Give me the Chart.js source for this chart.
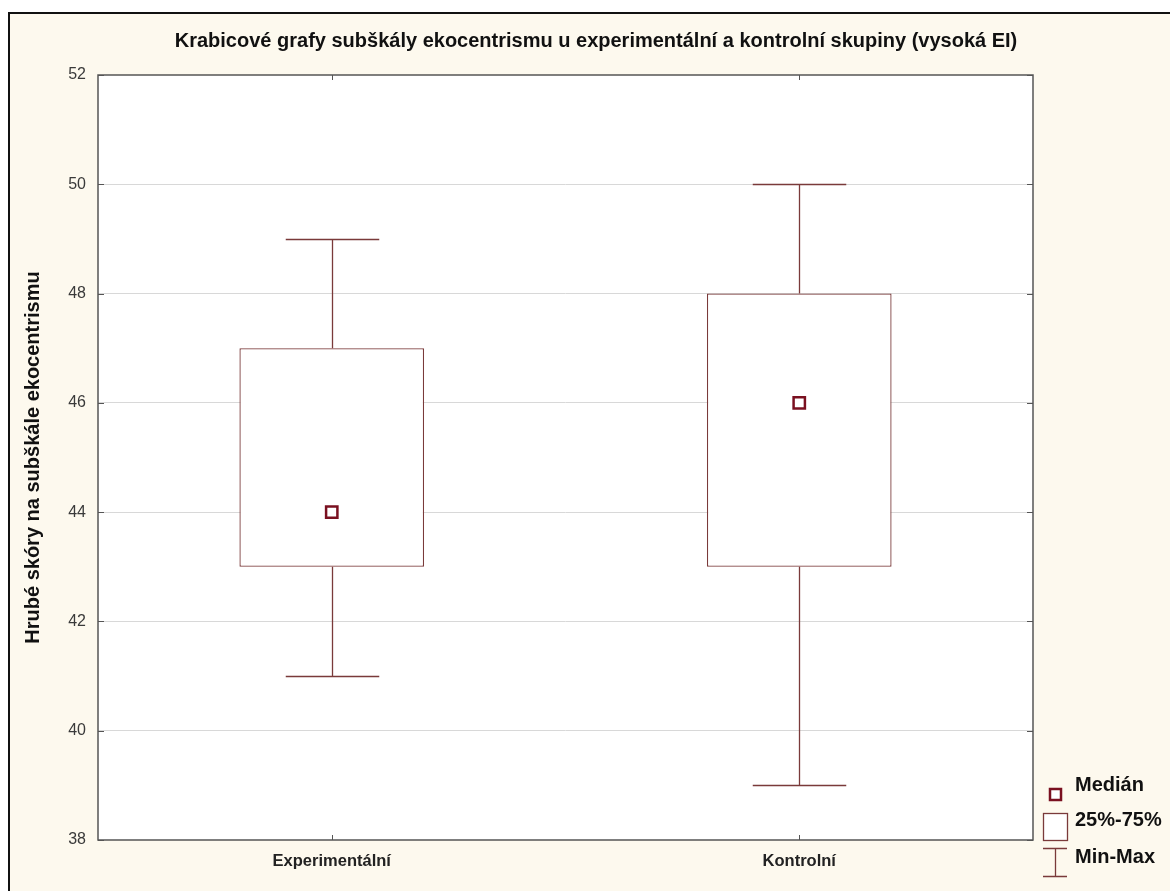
<!DOCTYPE html>
<html>
<head>
<meta charset="utf-8">
<script src="https://cdn.jsdelivr.net/npm/chart.js@4.4.1/dist/chart.umd.min.js"></script>
<style>
  html, body { margin: 0; padding: 0; background: #fff; }
  #wrap { width: 1170px; height: 891px; }
</style>
</head>
<body>
<div id="wrap"><canvas id="chart" width="1170" height="891"></canvas></div>
<script>
// data
var categories = ['Experimentální', 'Kontrolní'];
var q1Values = [43, 43];
var q3Values = [47, 48];
var medianValues = [44, 46];
var minValues = [41, 39];
var maxValues = [49, 50];
var yTicks = [38, 40, 42, 44, 46, 48, 50, 52];

var FONT = 'Arial, "Liberation Sans", sans-serif';
var BOX_COLOR = '#7a3a3a';
var MEDIAN_COLOR = '#7a1020';

// frame, inward ticks, whiskers, title and legend
var decorPlugin = {
  id: 'decor',
  beforeDraw: function (chart) {
    var ctx = chart.ctx;
    ctx.save();
    ctx.fillStyle = '#fdf9ee';
    ctx.fillRect(8, 12, 1170, 891);
    ctx.strokeStyle = '#111';
    ctx.lineWidth = 2;
    ctx.beginPath();
    ctx.moveTo(9, 891);
    ctx.lineTo(9, 13);
    ctx.lineTo(1170, 13);
    ctx.stroke();
    var a = chart.chartArea;
    ctx.fillStyle = '#fff';
    ctx.fillRect(a.left, a.top, a.right - a.left, a.bottom - a.top);
    ctx.restore();
  },
  beforeDatasetsDraw: function (chart) {
    var ctx = chart.ctx;
    var x = chart.scales.x;
    var y = chart.scales.y;
    ctx.save();
    ctx.strokeStyle = BOX_COLOR;
    ctx.lineWidth = 1.3;
    var half = (x.getPixelForValue(1) - x.getPixelForValue(0)) * 0.1;
    for (var i = 0; i < categories.length; i++) {
      var cx = Math.round(x.getPixelForValue(i)) + 0.5;
      var yMin = Math.round(y.getPixelForValue(minValues[i])) + 0.5;
      var yMax = Math.round(y.getPixelForValue(maxValues[i])) + 0.5;
      var yQ1 = y.getPixelForValue(q1Values[i]);
      var yQ3 = y.getPixelForValue(q3Values[i]);
      ctx.beginPath();
      ctx.moveTo(cx, yQ1); ctx.lineTo(cx, yMin);
      ctx.moveTo(cx, yQ3); ctx.lineTo(cx, yMax);
      ctx.moveTo(cx - half, yMin); ctx.lineTo(cx + half, yMin);
      ctx.moveTo(cx - half, yMax); ctx.lineTo(cx + half, yMax);
      ctx.stroke();
    }
    ctx.restore();
  },
  afterDraw: function (chart) {
    var ctx = chart.ctx;
    var a = chart.chartArea;
    var x = chart.scales.x;
    var y = chart.scales.y;
    ctx.save();
    // plot frame
    ctx.strokeStyle = '#555';
    ctx.lineWidth = 1.5;
    ctx.strokeRect(a.left, a.top, a.right - a.left, a.bottom - a.top);
    // inward tick marks
    ctx.lineWidth = 1;
    ctx.beginPath();
    yTicks.forEach(function (v) {
      var py = Math.round(y.getPixelForValue(v)) + 0.5;
      ctx.moveTo(a.left, py); ctx.lineTo(a.left + 6, py);
      ctx.moveTo(a.right, py); ctx.lineTo(a.right - 6, py);
    });
    categories.forEach(function (c, i) {
      var px = Math.round(x.getPixelForValue(i)) + 0.5;
      ctx.moveTo(px, a.top); ctx.lineTo(px, a.top + 5);
      ctx.moveTo(px, a.bottom); ctx.lineTo(px, a.bottom - 5);
    });
    ctx.stroke();

    // title
    ctx.fillStyle = '#111';
    ctx.font = 'bold 20px ' + FONT;
    ctx.textAlign = 'center';
    ctx.textBaseline = 'middle';
    ctx.fillText('Krabicové grafy subškály ekocentrismu u experimentální a kontrolní skupiny (vysoká EI)', 596, 41);

    // legend
    ctx.strokeStyle = MEDIAN_COLOR;
    ctx.lineWidth = 2.5;
    ctx.fillStyle = '#fff';
    ctx.fillRect(1050, 789, 11, 11);
    ctx.strokeRect(1050, 789, 11, 11);
    ctx.strokeStyle = BOX_COLOR;
    ctx.lineWidth = 1.3;
    ctx.fillRect(1043.5, 813.5, 24, 27);
    ctx.strokeRect(1043.5, 813.5, 24, 27);
    ctx.beginPath();
    ctx.moveTo(1043, 848.5); ctx.lineTo(1067, 848.5);
    ctx.moveTo(1043, 876.5); ctx.lineTo(1067, 876.5);
    ctx.moveTo(1055.5, 848.5); ctx.lineTo(1055.5, 876.5);
    ctx.stroke();
    ctx.fillStyle = '#111';
    ctx.font = 'bold 20px ' + FONT;
    ctx.textAlign = 'left';
    ctx.fillText('Medián', 1075, 785);
    ctx.fillText('25%-75%', 1075, 820);
    ctx.fillText('Min-Max', 1075, 857);
    ctx.restore();
  }
};

var boxData = categories.map(function (c, i) { return [q1Values[i], q3Values[i]]; });

new Chart(document.getElementById('chart'), {
  data: {
    labels: categories,
    datasets: [{
      type: 'bar',
      label: '25%-75%',
      data: boxData,
      backgroundColor: '#fff',
      borderColor: BOX_COLOR,
      borderWidth: 1.3,
      borderSkipped: false,
      categoryPercentage: 1,
      barPercentage: 0.395,
      order: 2
    }, {
      type: 'line',
      label: 'Medián',
      data: medianValues,
      showLine: false,
      pointStyle: 'rect',
      pointRadius: 8,
      pointBorderWidth: 2.5,
      pointBorderColor: MEDIAN_COLOR,
      pointBackgroundColor: '#fff',
      order: 1
    }]
  },
  options: {
    responsive: false,
    animation: false,
    layout: { padding: { left: 0, top: 75, right: 137, bottom: 0 } },
    plugins: {
      legend: { display: false },
      tooltip: { enabled: false }
    },
    scales: {
      x: {
        type: 'category',
        offset: true,
        afterFit: function (s) { s.height = 51; },
        grid: { display: false, drawTicks: false },
        border: { display: false },
        ticks: {
          color: '#222',
          padding: 12,
          font: { family: FONT, size: 16.5, weight: 'bold' }
        }
      },
      y: {
        min: 38,
        max: 52,
        afterFit: function (s) { s.width = 98; },
        afterBuildTicks: function (s) {
          s.ticks = yTicks.map(function (v) { return { value: v }; });
        },
        grid: {
          drawTicks: false,
          color: function (c) {
            return (c.tick && (c.tick.value === 38 || c.tick.value === 52)) ? 'rgba(0,0,0,0)' : '#d8d8d8';
          }
        },
        border: { display: false },
        ticks: {
          color: '#3a3a3a',
          padding: 12,
          font: { family: FONT, size: 16 }
        },
        title: {
          display: true,
          text: 'Hrubé skóry na subškále ekocentrismu',
          color: '#111',
          padding: { top: 21, bottom: 0 },
          font: { family: FONT, size: 20, weight: 'bold' }
        }
      }
    }
  },
  plugins: [decorPlugin]
});
</script>
</body>
</html>
